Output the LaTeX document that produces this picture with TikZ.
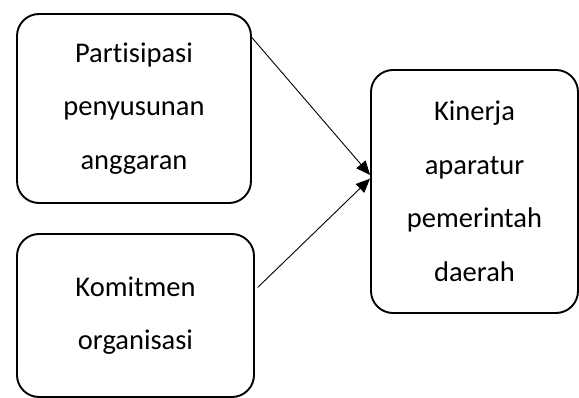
\documentclass[tikz,border=0pt]{standalone}
\usepackage{fontspec}
\setmainfont{Carlito}[Ligatures=NoCommon]
\usetikzlibrary{arrows.meta}
\begin{document}
\begin{tikzpicture}[x=1pt, y=-1pt, line join=round, line cap=round,
	kotak/.style={draw, line width=1.9pt, rounded corners=22pt, inner sep=0pt, align=center, font=\fontsize{28.5}{53.5}\selectfont},
	panah/.style={-{Triangle[length=14pt,width=12pt]}, line width=0.9pt}]
	\useasboundingbox (0,0) rectangle (579,398);

	\node[kotak, minimum width=234pt, minimum height=189pt] (partisipasi) at (134,108.5) {Partisipasi\\penyusunan\\anggaran};
	\node[kotak, minimum width=237pt, minimum height=163pt] (komitmen) at (135.5,315.5) {Komitmen\\organisasi};
	\node[kotak, minimum width=207pt, minimum height=243pt] (kinerja) at (474.5,191.5) {Kinerja\\aparatur\\pemerintah\\daerah};

	\foreach \n/\s/\t/\g in {partisipasi/31/171/0, komitmen/12/173/4}
	\draw[panah, shorten <=\g pt] (\n.\s)--(kinerja.\t);
\end{tikzpicture}
\end{document}
